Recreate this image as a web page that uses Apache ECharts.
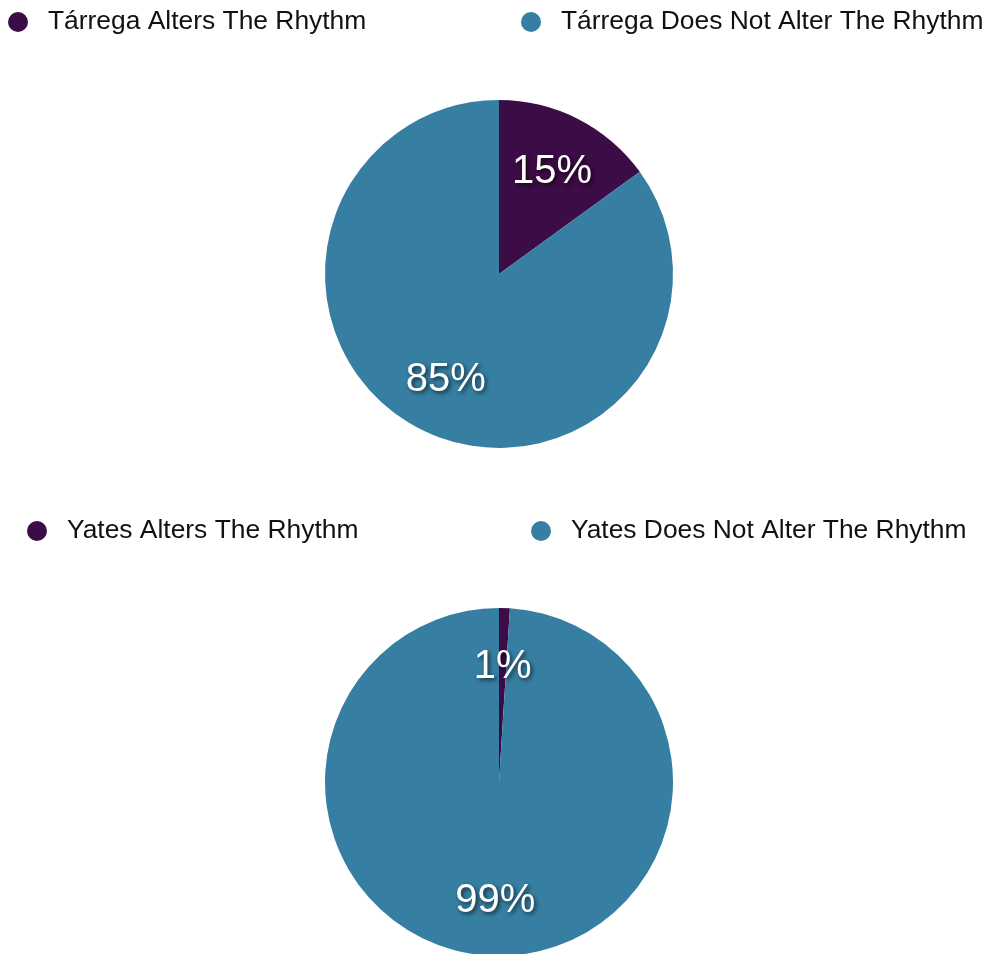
<!DOCTYPE html>
<html>
<head>
<meta charset="utf-8">
<script src="https://cdn.jsdelivr.net/npm/echarts@6/dist/echarts.min.js"></script>
<style>
  html, body { margin: 0; padding: 0; background: #ffffff; }
  #chart { width: 990px; height: 954px; }
</style>
</head>
<body>
<div id="chart"></div>
<script>
// Rhythm alteration shares for each performer
const tarregaNames = ['Tárrega Alters The Rhythm', 'Tárrega Does Not Alter The Rhythm'];
const tarregaValues = [15, 85];
const yatesNames = ['Yates Alters The Rhythm', 'Yates Does Not Alter The Rhythm'];
const yatesValues = [1, 99];
const sliceColors = ['#3c0c46', '#367fa2'];

const FONT = '"Liberation Sans", Arial, Helvetica, sans-serif';

function pieData(names, values) {
  return names.map((n, i) => ({ name: n, value: values[i], itemStyle: { color: sliceColors[i] } }));
}

function pieSeries(names, values, center) {
  return [
    {
      type: 'pie',
      center: center,
      radius: [0, 174],
      startAngle: 90,
      clockwise: true,
      silent: true,
      animation: false,
      label: { show: false },
      labelLine: { show: false },
      itemStyle: { borderWidth: 0 },
      data: pieData(names, values)
    },
    {
      // transparent ring that carries the percentage labels
      type: 'pie',
      center: center,
      radius: [54, 174],
      startAngle: 90,
      clockwise: true,
      silent: true,
      animation: false,
      itemStyle: { color: 'rgba(0,0,0,0)', borderWidth: 0 },
      label: {
        show: true,
        position: 'inside',
        formatter: '{c}%',
        offset: [0, 2],
        color: '#ffffff',
        fontFamily: FONT,
        fontSize: 40,
        textShadowColor: 'rgba(0,0,0,0.65)',
        textShadowBlur: 4,
        textShadowOffsetX: 2,
        textShadowOffsetY: 2
      },
      labelLine: { show: false },
      data: names.map((n, i) => ({ name: n, value: values[i] }))
    }
  ];
}

function legendItem(name, left, top) {
  return {
    data: [name],
    left: left,
    top: top,
    padding: 0,
    icon: 'circle',
    itemWidth: 20,
    itemHeight: 20,
    selectedMode: false,
    formatter: '{s|}{n|{name}}',
    textStyle: {
      color: '#111111',
      fontFamily: FONT,
      fontSize: 26.4,
      rich: {
        s: { width: 15 },
        n: { color: '#111111', fontFamily: FONT, fontSize: 26.4 }
      }
    }
  };
}

const chart = echarts.init(document.getElementById('chart'), null, { renderer: 'canvas' });
chart.setOption({
  animation: false,
  backgroundColor: '#ffffff',
  legend: [
    legendItem(tarregaNames[0], 8, 9),
    legendItem(tarregaNames[1], 521, 9),
    legendItem(yatesNames[0], 27, 518),
    legendItem(yatesNames[1], 531, 518)
  ],
  series: [
    ...pieSeries(tarregaNames, tarregaValues, [499, 274]),
    ...pieSeries(yatesNames, yatesValues, [499, 782])
  ]
});
</script>
</body>
</html>
